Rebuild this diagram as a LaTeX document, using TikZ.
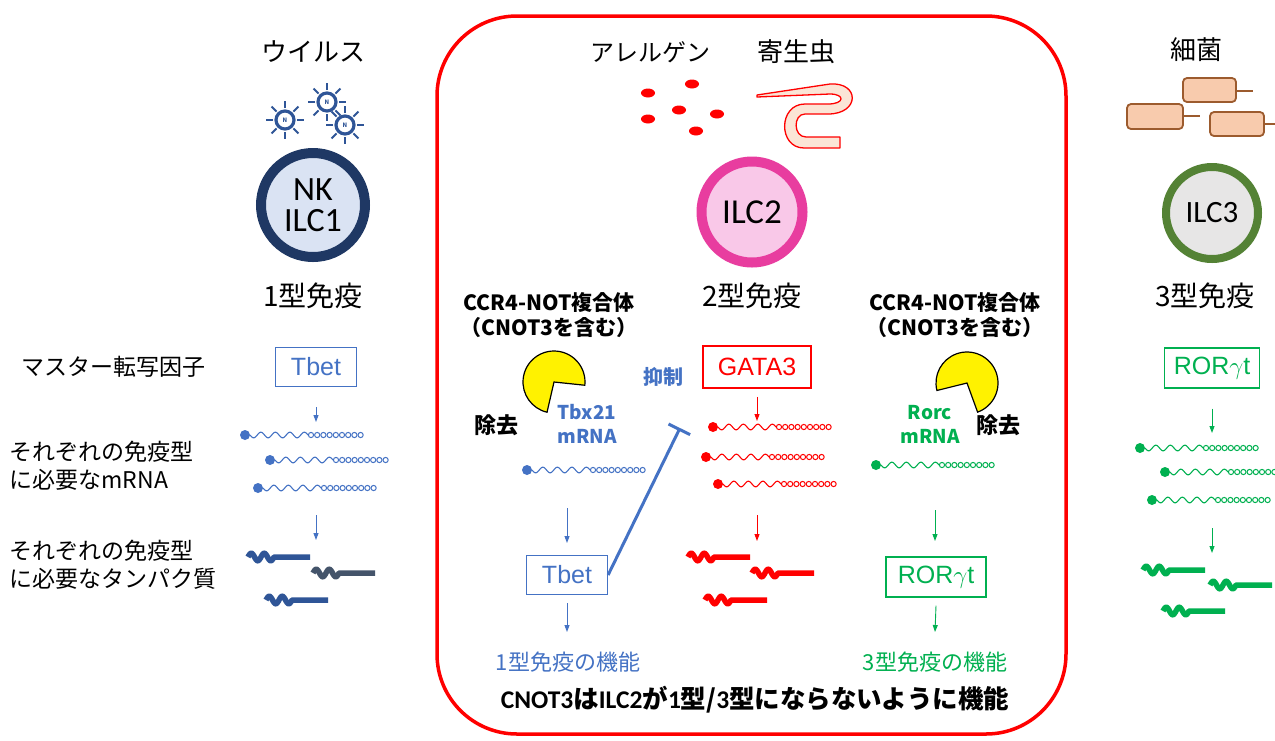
\documentclass[tikz,border=0pt]{standalone}
\usepackage{fontspec}
\setmainfont{Noto Sans CJK JP}
\newfontfamily\latinf{Carlito}
\newfontfamily\arialf{Liberation Sans}
\usetikzlibrary{arrows.meta}

\definecolor{ablue}{HTML}{4472C4}
\definecolor{navy}{HTML}{1F3864}
\definecolor{vblue}{HTML}{2F5597}
\definecolor{pgray}{HTML}{44546A}
\definecolor{ared}{HTML}{FF0000}
\definecolor{agreen}{HTML}{00B050}
\definecolor{olive}{HTML}{548235}
\definecolor{ringpink}{HTML}{E83D9F}
\definecolor{cellpink}{HTML}{F9C8E8}
\definecolor{cellblue}{HTML}{DAE3F3}
\definecolor{cellgray}{HTML}{E7E6E6}
\definecolor{bactfill}{HTML}{F8CBAD}
\definecolor{bactline}{HTML}{9C5B2E}
\definecolor{wormfill}{HTML}{FBE5D6}

\newcommand{\fsz}[1]{\fontsize{#1}{#1}\selectfont}

\tikzset{
  % messenger RNA: cap, wavy body, poly-A chain
  mrna/.pic={
    \fill (0,0) circle[radius=5pt];
    \draw[line width=1.1pt] plot[domain=0:58,samples=90,smooth] ({5+\x},{2.8*sin(24.83*\x)});
    \foreach \i in {0,...,8} \draw[line width=1pt] ({66+\i*6.2},0) circle[radius=2.6pt];
  },
  % folded protein chain
  protein/.pic={
    \draw[line width=5.5pt, line join=round]
      plot[domain=0:26,samples=40,smooth] (\x,{-3.8*sin(27.69*\x)}) -- (62,0);
  },
  virus/.pic={
    \foreach \a in {0,45,...,315} \draw[line width=1.8pt] (\a:12pt) -- (\a:19pt);
    \draw[line width=3.2pt, fill=white] (0,0) circle[radius=9pt];
    \node[font=\fsz{6}\bfseries\itshape, inner sep=0pt] (core) {N};
  },
  title/.style={font=\fsz{26}},
  typ/.style={font=\fsz{28}},
  lab/.style={font=\fontsize{23}{28}\selectfont, align=left, anchor=west},
  ccr/.style={font=\fontsize{21}{25}\selectfont\bfseries, align=center},
  cell/.style={circle, inner sep=0pt, align=center},
  tfbox/.style={draw, line width=1.2pt, minimum width=81pt, minimum height=39pt,
    inner sep=0pt, font=\arialf\fsz{25}},
  arr/.style={-{Triangle[length=7pt,width=5pt]}, line width=0.9pt},
  bact/.style={draw=bactline, fill=bactfill, line width=1.8pt, rounded corners=4pt},
}

\begin{document}
\begin{tikzpicture}[x=1pt,y=-1pt]
\useasboundingbox (0,0) rectangle (1275,740);
\fill[white] (0,0) rectangle (1275,740);

% central frame
\draw[ared, line width=3.5pt, rounded corners=80pt] (437,16) rectangle (1066,734);

% titles
\node[title] (virus) at (313,52) {ウイルス};
\node[title, font=\fsz{24}] (allergen) at (650,52) {アレルゲン};
\node[title] (parasite) at (796,52) {寄生虫};
\node[title] (bacteria) at (1196,50) {細菌};

% viruses
\pic[vblue] (v1) at (285,120) {virus};
\pic[vblue] (v2) at (327,102) {virus};
\pic[vblue] (v3) at (345,125) {virus};

% allergen particles
\foreach \p in {(648,93),(692,84),(679,110),(648,119),(717,114),(696,131)}
  \fill[ared] \p ellipse[x radius=7pt, y radius=4.5pt];

% parasite worm
\draw[ared, fill=wormfill, line width=1.3pt, line join=round]
  (757,95) -- (830,84) .. controls (860,82) and (860,114) .. (828,114)
  -- (805,114) .. controls (793,114) and (793,137) .. (806,137)
  -- (840,137) -- (840,148) -- (804,148)
  .. controls (778,148) and (778,104) .. (805,104)
  -- (828,104) .. controls (845,104) and (845,94) .. (830,94)
  -- (757,97) -- cycle;

% bacteria
\draw[bactline, line width=1.8pt] (1236,91) -- (1253,91);
\draw[bactline, line width=1.8pt] (1183,116) -- (1200,116);
\draw[bactline, line width=1.8pt] (1264,124) -- (1275,124);
\draw[bact] (1183,78) rectangle (1236,102);
\draw[bact] (1127,104) rectangle (1183,129);
\draw[bact] (1210,112) rectangle (1264,136);

% cells
\node[cell, draw=navy, fill=cellblue, line width=10pt, minimum size=104pt, font=\latinf\fontsize{34}{31}\selectfont]
  (ilc1) at (313,205) {NK\\ILC1};
\node[cell, draw=ringpink, fill=cellpink, line width=10pt, minimum size=101pt, font=\latinf\fsz{35}]
  (ilc2) at (752,212) {ILC2};
\node[cell, draw=olive, fill=cellgray, line width=8pt, minimum size=92pt, font=\latinf\fsz{31}]
  (ilc3) at (1212,213) {ILC3};

% immunity types
\node[typ] (type1) at (313,296) {1型免疫};
\node[typ] (type2) at (752,296) {2型免疫};
\node[typ] (type3) at (1205,296) {3型免疫};

% row labels
\node[lab] (labTF) at (18,367) {マスター転写因子};
\node[lab] (labRNA) at (6,466) {それぞれの免疫型\\に必要なmRNA};
\node[lab] (labPro) at (6,565) {それぞれの免疫型\\に必要なタンパク質};

% CCR4-NOT complex
\node[ccr] (ccrL) at (549,315) {CCR4-NOT複合体\\（CNOT3を含む）};
\node[ccr] (ccrR) at (955,315) {CCR4-NOT複合体\\（CNOT3を含む）};
\draw[fill=yellow, line width=1.2pt] (554,382) -- ++(-6:31pt)
  arc[start angle=-6, end angle=257, radius=31pt] -- cycle;
\draw[fill=yellow, line width=1.2pt] (967,383) -- ++(290:31pt)
  arc[start angle=290, end angle=554, radius=31pt] -- cycle;
\node[font=\fsz{22}\bfseries] (rmL) at (496,425) {除去};
\node[font=\fsz{22}\bfseries] (rmR) at (998,425) {除去};
\node[font=\fontsize{19}{24}\selectfont\bfseries, text=ablue, align=center] (tbxR) at (587,424) {Tbx21\\mRNA};
\node[font=\fontsize{19}{24}\selectfont\bfseries, text=agreen, align=center] (rorcR) at (930,424) {Rorc\\mRNA};

% ---- left column: type 1 ----
\node[tfbox, draw=ablue, text=ablue] (tbetL) at (316,367) {Tbet};
\coordinate (aL1) at (316,422);
\draw[arr, ablue] ([yshift=-20pt]tbetL.south) -- (aL1);
\pic[ablue] (mL1) at (245,435) {mrna};
\pic[ablue] (mL2) at (270,460) {mrna};
\pic[ablue] (mL3) at (258,488) {mrna};
\coordinate (aL2s) at (316,515);
\coordinate (aL2) at (316,540);
\draw[arr, ablue] (aL2s) -- (aL2);
\pic[vblue] (pL1) at (248,557) {protein};
\pic[pgray] (pL2) at (313,573) {protein};
\pic[vblue] (pL3) at (266,600) {protein};

% ---- centre: Tbx21 branch ----
\pic[ablue] (mC) at (527,470) {mrna};
\coordinate (aC1s) at (567,508);
\coordinate (aC1) at (567,543);
\draw[arr, ablue] (aC1s) -- (aC1);
\node[tfbox, draw=ablue, text=ablue] (tbetC) at (567,575) {Tbet};
\coordinate (fn1) at (567,632);
\draw[arr, ablue] ([yshift=-8pt]tbetC.south) -- (fn1);
\node[font=\fsz{22}, text=ablue] (func1) at (568,662) {1型免疫の機能};
\coordinate (inh) at (680,428);
\draw[ablue, line width=3pt, -{Bar[width=24pt,line width=3pt]}] (tbetC.east) -- (inh);
\node[font=\fsz{20}\bfseries, text=ablue] (inhTxt) at (663,377) {抑制};

% ---- centre: GATA3 branch ----
\node[tfbox, draw=ared, text=ared, minimum width=108pt, minimum height=42pt, line width=1.5pt] (gata3) at (757,367) {GATA3};
\coordinate (aG1) at (757,421);
\draw[arr, ared] ([yshift=-8pt]gata3.south) -- (aG1);
\pic[ared] (mG1) at (713,427) {mrna};
\pic[ared] (mG2) at (706,457) {mrna};
\pic[ared] (mG3) at (718,484) {mrna};
\coordinate (aG2s) at (757,515);
\coordinate (aG2) at (757,541);
\draw[arr, ared] (aG2s) -- (aG2);
\pic[ared] (pG1) at (688,557) {protein};
\pic[ared] (pG2) at (752,573) {protein};
\pic[ared] (pG3) at (705,600) {protein};

% ---- centre: Rorc branch ----
\pic[agreen] (mR) at (876,465) {mrna};
\coordinate (aR1s) at (935,510);
\coordinate (aR1) at (935,541);
\draw[arr, agreen] (aR1s) -- (aR1);
\node[tfbox, draw=agreen, text=agreen, minimum width=100pt, minimum height=40pt] (rorC) at (936,577) {ROR$\gamma$t};
\coordinate (fn3) at (935,632);
\draw[arr, agreen] ([yshift=-8pt]rorC.south) -- (fn3);
\node[font=\fsz{22}, text=agreen] (func3) at (935,662) {3型免疫の機能};

% conclusion
\node[font=\fsz{25.5}\bfseries] (concl) at (755,700) {{\latinf CNOT3}は{\latinf ILC2}が{\latinf 1}型/{\latinf 3}型にならないように機能};

% ---- right column: type 3 ----
\node[tfbox, draw=agreen, text=agreen, minimum width=95pt, minimum height=40pt] (rorR) at (1212,368) {ROR$\gamma$t};
\coordinate (aRR1) at (1212,433);
\draw[arr, agreen] ([yshift=-20pt]rorR.south) -- (aRR1);
\pic[agreen] (mRR1) at (1140,448) {mrna};
\pic[agreen] (mRR2) at (1165,472) {mrna};
\pic[agreen] (mRR3) at (1152,500) {mrna};
\coordinate (aRR2s) at (1212,528);
\coordinate (aRR2) at (1212,553);
\draw[arr, agreen] (aRR2s) -- (aRR2);
\pic[agreen] (pR1) at (1143,570) {protein};
\pic[agreen] (pR2) at (1210,585) {protein};
\pic[agreen] (pR3) at (1163,611) {protein};
\end{tikzpicture}
\end{document}
